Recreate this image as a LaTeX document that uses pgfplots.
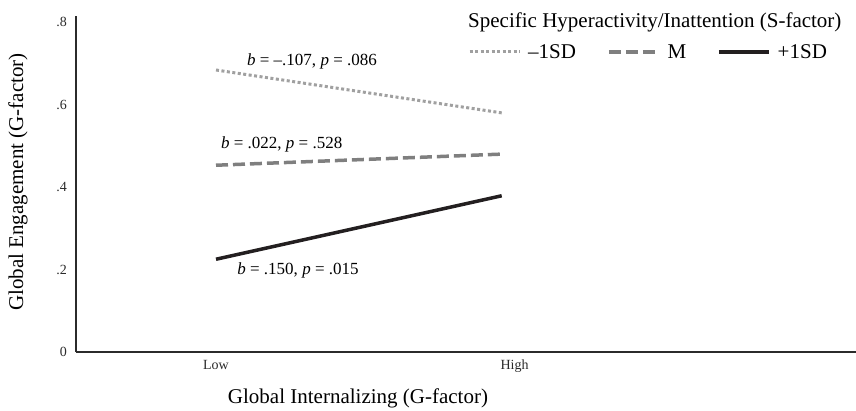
\documentclass[border=0pt]{standalone}
\usepackage{pgfplots}
\pgfplotsset{compat=1.18}
\usepackage{fontspec}
\setmainfont{Liberation Serif}
\definecolor{dotgray}{HTML}{A0A0A0}
\definecolor{dashgray}{HTML}{7F7F7F}
\definecolor{solidblack}{HTML}{231F20}
\definecolor{axisblack}{HTML}{2B2B2B}
\begin{document}
\begin{tikzpicture}
\begin{axis}[
  at={(0,0)}, anchor=south west,
  scale only axis, width=780pt, height=336pt,
  xmin=0.51, xmax=3.24, ymin=0, ymax=0.815,
  clip=false,
  axis lines=left,
  axis line style={-, line width=1.6pt, color=axisblack},
  xtick={1,2.045}, xticklabels={Low,High},
  ytick={0,0.2,0.4,0.6,0.8}, yticklabels={0,.2,.4,.6,.8},
  major tick length=0pt,
  tick label style={font=\fontsize{14}{16}\selectfont, color=axisblack},
  yticklabel style={inner sep=0pt, anchor=east, xshift=-9pt},
  xticklabel style={inner sep=0pt, anchor=north, yshift=-8pt},
  xlabel={Global Internalizing (G-factor)},
  xlabel style={at={(rel axis cs:0.3615,0)}, anchor=center, yshift=-46pt, font=\fontsize{21}{25}\selectfont},
  ylabel={Global Engagement (G-factor)},
  ylabel style={at={(rel axis cs:-0.0744,0.506)}, anchor=center, font=\fontsize{21}{25}\selectfont},
  legend style={at={(rel axis cs:0.5026,0.893)}, anchor=west, draw=none, fill=none, inner sep=0pt,
    font=\fontsize{21}{25}\selectfont,
    /tikz/every odd column/.append style={column sep=5pt},
    /tikz/every even column/.append style={column sep=29pt}},
  legend columns=3,
  legend image code/.code={\draw[#1] (0pt,0pt) -- (50pt,0pt);},
]
\addplot[dotgray, line width=3pt, dash pattern=on 3pt off 2.5pt] coordinates {(1,0.684) (2,0.580)};
\addplot[dashgray, line width=3.5pt, dash pattern=on 12pt off 5pt] coordinates {(1,0.453) (2,0.480)};
\addplot[solidblack, line width=3.5pt] coordinates {(1,0.225) (2,0.379)};
\legend{\textendash1SD, M, +1SD}
\node[font=\fontsize{17}{20}\selectfont] at (axis cs:1.336,0.705) {\textit{b} = \textendash.107, \textit{p} = .086};
\node[font=\fontsize{17}{20}\selectfont] at (axis cs:1.23,0.504) {\textit{b} = .022, \textit{p} = .528};
\node[font=\fontsize{17}{20}\selectfont] at (axis cs:1.287,0.199) {\textit{b} = .150, \textit{p} = .015};
\node[anchor=west, inner sep=0pt, font=\fontsize{21}{25}\selectfont] at (rel axis cs:0.5026,0.982) {Specific Hyperactivity/Inattention (S-factor)};
\end{axis}
\pgfresetboundingbox
\path[use as bounding box] (-76pt,-58pt) rectangle (780pt,352pt);
\end{tikzpicture}
\end{document}
